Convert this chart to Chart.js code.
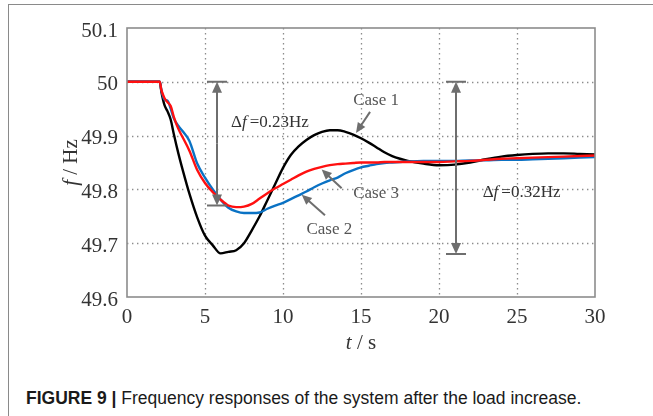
<html>
    <head>
        <title>Frequency responses of the system after the load increase</title>
        <script src="https://cdn.jsdelivr.net/npm/chart.js"></script>
        <style>
            body {
                margin: 0;
                background: #fff;
            }
            #frame {
                position: relative;
                width: 653px;
                height: 416px;
                overflow: hidden;
            }
            #edge-top {
                position: absolute;
                left: 8px;
                right: 0;
                top: 4px;
                border-top: 1.5px solid #8a8a8a;
            }
            #edge-left {
                position: absolute;
                left: 8px;
                top: 4px;
                bottom: 0;
                border-left: 1.5px solid #8a8a8a;
            }
            #chart {
                position: absolute;
                left: 0;
                top: 0;
            }
            #caption {
                position: absolute;
                left: 26px;
                top: 388px;
                font-family: "Liberation Sans", Arial, sans-serif;
                font-size: 17.5px;
                color: #1a1a1a;
                white-space: nowrap;
            }
            #caption b {
                font-weight: bold;
            }
        </style>
    </head>
    <body>
        <div id="frame">
            <div id="edge-top"></div>
            <div id="edge-left"></div>
            <canvas id="chart" width="653" height="360"></canvas>
            <div id="caption"><b>FIGURE 9 |</b> Frequency responses of the system after the load increase.</div>
        </div>
        <script>
            // time axis (s) shared by the three cases
            const tSec = [0, 2.1, 2.2, 2.4, 2.6, 2.8, 3.0, 3.3, 3.6, 4.0, 4.5, 5.0, 5.5, 6.0, 6.5, 7.0, 7.5, 8.0, 8.5, 9.0, 9.5,
                10, 10.5, 11, 11.5, 12, 12.5, 13, 13.5, 14, 14.5, 15, 15.5, 16, 16.5, 17, 17.5, 18, 19, 20, 21, 22, 23, 24,
                25, 26, 27, 28, 29, 30];
            // frequency (Hz)
            const case1 = [50.0, 50.0, 49.982, 49.957, 49.945, 49.930, 49.903, 49.866, 49.833, 49.792, 49.748, 49.714, 49.696,
                49.681, 49.684, 49.687, 49.700, 49.724, 49.750, 49.780, 49.810, 49.840, 49.864, 49.880, 49.892, 49.901, 49.907,
                49.910, 49.910, 49.907, 49.902, 49.895, 49.887, 49.878, 49.869, 49.862, 49.857, 49.853, 49.848, 49.845, 49.846,
                49.850, 49.856, 49.861, 49.864, 49.866, 49.867, 49.867, 49.866, 49.865];
            const case2 = [50.0, 50.0, 49.985, 49.967, 49.965, 49.950, 49.932, 49.918, 49.907, 49.890, 49.848, 49.822, 49.800,
                49.781, 49.766, 49.759, 49.756, 49.756, 49.757, 49.764, 49.770, 49.775, 49.782, 49.789, 49.796, 49.804, 49.811,
                49.817, 49.822, 49.830, 49.836, 49.841, 49.844, 49.847, 49.849, 49.850, 49.851, 49.852, 49.853, 49.853, 49.853,
                49.854, 49.854, 49.855, 49.855, 49.856, 49.857, 49.858, 49.859, 49.860];
            const case3 = [50.0, 50.0, 49.985, 49.970, 49.962, 49.955, 49.935, 49.912, 49.895, 49.872, 49.836, 49.812, 49.795,
                49.781, 49.770, 49.767, 49.768, 49.773, 49.783, 49.793, 49.802, 49.810, 49.818, 49.826, 49.833, 49.838, 49.842,
                49.845, 49.847, 49.848, 49.849, 49.850, 49.850, 49.850, 49.851, 49.851, 49.851, 49.851, 49.851, 49.851, 49.852,
                49.853, 49.855, 49.857, 49.858, 49.859, 49.860, 49.861, 49.862, 49.863];
            const xTicks = [0, 5, 10, 15, 20, 25, 30];
            const yTicks = [49.6, 49.7, 49.8, 49.9, 50, 50.1];

            const serif = '"Liberation Serif", "Times New Roman", serif';

            function arrow(ctx, x1, y1, x2, y2, len, half) {
                const ang = Math.atan2(y2 - y1, x2 - x1);
                ctx.beginPath();
                ctx.moveTo(x1, y1);
                ctx.lineTo(x2 - Math.cos(ang) * len * 0.8, y2 - Math.sin(ang) * len * 0.8);
                ctx.stroke();
                ctx.beginPath();
                ctx.moveTo(x2, y2);
                ctx.lineTo(x2 - Math.cos(ang) * len - Math.sin(ang) * half, y2 - Math.sin(ang) * len + Math.cos(ang) * half);
                ctx.lineTo(x2 - Math.cos(ang) * len + Math.sin(ang) * half, y2 - Math.sin(ang) * len - Math.cos(ang) * half);
                ctx.closePath();
                ctx.fill();
            }

            function deltaLabel(ctx, x, y, value) {
                ctx.textBaseline = 'middle';
                ctx.textAlign = 'left';
                ctx.font = '17px ' + serif;
                ctx.fillText('\u0394', x, y);
                x += ctx.measureText('\u0394').width;
                ctx.font = 'italic 17px ' + serif;
                ctx.fillText('f', x, y);
                x += ctx.measureText('f').width + 3;
                ctx.font = '17px ' + serif;
                ctx.fillText('=' + value, x, y);
            }

            const gridPlugin = {
                id: 'dotgrid',
                beforeDatasetsDraw(chart) {
                    const {ctx, chartArea: a, scales: {x, y}} = chart;
                    ctx.save();
                    ctx.strokeStyle = '#8c8c8c';
                    ctx.lineWidth = 1.3;
                    ctx.setLineDash([1.4, 3.6]);
                    xTicks.slice(1, -1).forEach(v => {
                        const px = Math.round(x.getPixelForValue(v)) + 0.5;
                        ctx.beginPath();
                        ctx.moveTo(px, a.top);
                        ctx.lineTo(px, a.bottom);
                        ctx.stroke();
                    });
                    yTicks.slice(1, -1).forEach(v => {
                        const py = Math.round(y.getPixelForValue(v)) + 0.5;
                        ctx.beginPath();
                        ctx.moveTo(a.left, py);
                        ctx.lineTo(a.right, py);
                        ctx.stroke();
                    });
                    ctx.restore();
                }
            };

            const notesPlugin = {
                id: 'notes',
                afterDatasetsDraw(chart) {
                    const {ctx, chartArea: a, scales: {x, y}} = chart;
                    ctx.save();
                    // axes box
                    ctx.strokeStyle = '#8c8c8c';
                    ctx.lineWidth = 1.6;
                    ctx.strokeRect(a.left, a.top, a.right - a.left, a.bottom - a.top);

                    // delta f double arrows
                    ctx.strokeStyle = '#6e6e6e';
                    ctx.fillStyle = '#6e6e6e';
                    ctx.lineWidth = 2;
                    [[5.77, 50.0, 49.77], [21.09, 50.0, 49.68]].forEach(d => {
                        const px = x.getPixelForValue(d[0]);
                        const top = y.getPixelForValue(d[1]);
                        const bot = y.getPixelForValue(d[2]);
                        const mid = (top + bot) / 2;
                        arrow(ctx, px, mid, px, top, 11, 5);
                        arrow(ctx, px, mid, px, bot, 11, 5);
                        ctx.beginPath();
                        ctx.moveTo(px - 10, top);
                        ctx.lineTo(px + 10, top);
                        ctx.moveTo(px - 10, bot);
                        ctx.lineTo(px + 10, bot);
                        ctx.stroke();
                    });

                    // case pointers
                    [[15.58, 49.944, 14.68, 49.905], [13.76, 49.802, 12.48, 49.837], [12.69, 49.752, 11.2, 49.790]].forEach(p => {
                        arrow(ctx, x.getPixelForValue(p[0]), y.getPixelForValue(p[1]),
                            x.getPixelForValue(p[2]), y.getPixelForValue(p[3]), 10, 4.5);
                    });

                    // texts
                    ctx.fillStyle = '#333';
                    deltaLabel(ctx, x.getPixelForValue(6.67), y.getPixelForValue(49.925), '0.23Hz');
                    deltaLabel(ctx, x.getPixelForValue(22.8), y.getPixelForValue(49.795), '0.32Hz');
                    ctx.fillStyle = '#555';
                    ctx.font = '17px ' + serif;
                    ctx.textAlign = 'left';
                    ctx.textBaseline = 'middle';
                    ctx.fillText('Case 1', x.getPixelForValue(14.5), y.getPixelForValue(49.966));
                    ctx.fillText('Case 3', x.getPixelForValue(14.5), y.getPixelForValue(49.793));
                    ctx.fillText('Case 2', x.getPixelForValue(11.5), y.getPixelForValue(49.725));

                    // axis titles
                    ctx.fillStyle = '#333';
                    ctx.font = 'italic 21px ' + serif;
                    const tW = ctx.measureText('t').width;
                    ctx.font = '21px ' + serif;
                    const restX = ctx.measureText(' / s').width;
                    let tx = (a.left + a.right) / 2 - (tW + restX) / 2;
                    ctx.font = 'italic 21px ' + serif;
                    ctx.fillText('t', tx, 343);
                    ctx.font = '21px ' + serif;
                    ctx.fillText(' / s', tx + tW, 343);

                    ctx.translate(71, (a.top + a.bottom) / 2);
                    ctx.rotate(-Math.PI / 2);
                    ctx.font = 'italic 21px ' + serif;
                    const fW = ctx.measureText('f').width;
                    ctx.font = '21px ' + serif;
                    const restY = ctx.measureText(' / Hz').width;
                    const fx = -(fW + restY) / 2;
                    ctx.font = 'italic 21px ' + serif;
                    ctx.fillText('f', fx, 0);
                    ctx.font = '21px ' + serif;
                    ctx.fillText(' / Hz', fx + fW, 0);
                    ctx.restore();
                }
            };

            const toPoints = vals => tSec.map((t, i) => ({x: t, y: vals[i]}));

            const data = {
                datasets: [
                    {
                        label: 'Case 1',
                        data: toPoints(case1),
                        borderColor: '#000000',
                        order: 3
                    },
                    {
                        label: 'Case 2',
                        data: toPoints(case2),
                        borderColor: '#0a72c4',
                        order: 2
                    },
                    {
                        label: 'Case 3',
                        data: toPoints(case3),
                        borderColor: '#ff1010',
                        order: 1
                    }
                ]
            };

            const config = {
                type: 'line',
                data: data,
                options: {
                    responsive: false,
                    animation: false,
                    events: [],
                    elements: {
                        point: {radius: 0},
                        line: {borderWidth: 2.4, tension: 0.35, cubicInterpolationMode: 'monotone', fill: false}
                    },
                    layout: {
                        padding: {left: 0, right: 58, top: 28, bottom: 0}
                    },
                    plugins: {
                        legend: {display: false},
                        tooltip: {enabled: false}
                    },
                    scales: {
                        x: {
                            type: 'linear',
                            min: 0,
                            max: 30,
                            afterBuildTicks: s => { s.ticks = xTicks.map(v => ({value: v})); },
                            afterFit: s => { s.height = 63; },
                            grid: {display: false},
                            border: {display: false},
                            ticks: {
                                padding: 0,
                                color: '#333',
                                font: {family: serif, size: 21},
                                maxRotation: 0
                            }
                        },
                        y: {
                            type: 'linear',
                            min: 49.6,
                            max: 50.1,
                            afterBuildTicks: s => { s.ticks = yTicks.map(v => ({value: v})); },
                            afterFit: s => { s.width = 127; },
                            grid: {display: false},
                            border: {display: false},
                            ticks: {
                                padding: 1,
                                labelOffset: 3,
                                color: '#333',
                                font: {family: serif, size: 21},
                                callback: v => String(Math.round(v * 10) / 10)
                            }
                        }
                    }
                },
                plugins: [gridPlugin, notesPlugin]
            };

            const myChart = new Chart(document.getElementById('chart'), config);
        </script>
    </body>
</html>
